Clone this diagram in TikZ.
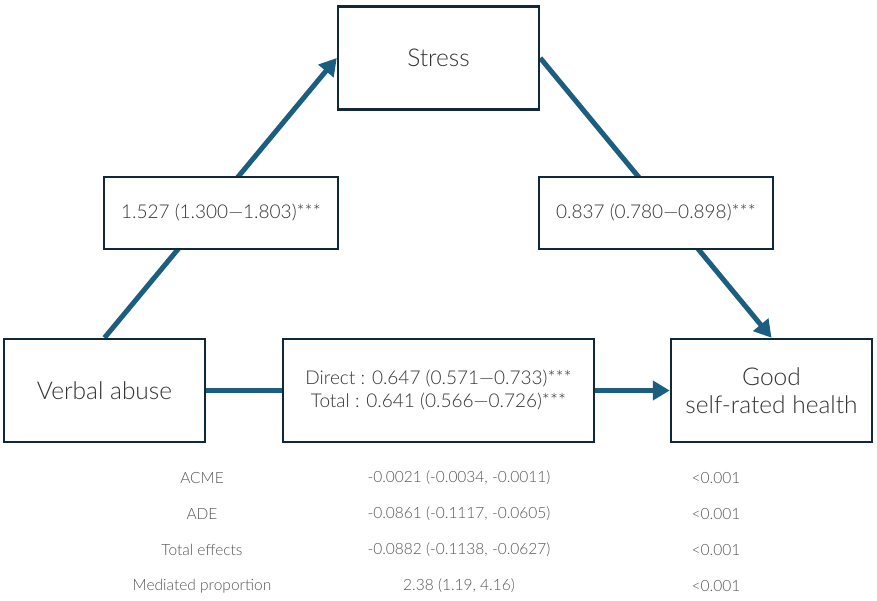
\documentclass[tikz,border=0pt]{standalone}
\usepackage{fontspec}
\setmainfont{Lato}[UprightFont=* Light]
\usetikzlibrary{arrows.meta,backgrounds}
\definecolor{arrowc}{HTML}{1C5E7F}
\definecolor{boxc}{HTML}{10293A}
\definecolor{txtc}{HTML}{333333}
\definecolor{tabc}{HTML}{555555}
\tikzset{
  mainbox/.style={draw=boxc,line width=2.5pt,fill=white,minimum width=201pt,minimum height=103pt,inner sep=0pt,align=center,text=txtc,font=\fontsize{24.5}{28}\selectfont},
  labbox/.style={draw=boxc,line width=2.5pt,fill=white,minimum width=234pt,minimum height=72pt,inner sep=0pt,align=center,text=txtc,font=\fontsize{19}{23}\selectfont},
  conn/.style={draw=arrowc,line width=5pt},
  arr/.style={conn,-{Triangle[length=17pt,width=19pt]}},
  tabtxt/.style={text=tabc,font=\fontsize{15.5}{18}\selectfont,inner sep=0pt}
}
\begin{document}
\begin{tikzpicture}[x=1pt,y=-1pt]
\useasboundingbox (0,0) rectangle (877,601);
\node[mainbox] (stress) at (438.5,58) {Stress};
\node[mainbox] (va) at (104.5,390.5) {Verbal abuse};
\node[mainbox] (good) at (771.5,390.5) {Good\\self-rated health};
\node[labbox] (l1) at (221,213) {1.527 (1.300—1.803)***};
\node[labbox] (l2) at (656,213) {0.837 (0.780—0.898)***};
\node[labbox,minimum width=311pt,minimum height=103pt] (dir) at (438.5,390.5) {Direct : 0.647 (0.571—0.733)***\\Total : 0.641 (0.566—0.726)***};
\begin{scope}[on background layer]
\fill[white] (0,0) rectangle (877,601);
\draw[arr] (va.north) -- (stress.west);
\draw[arr] (stress.east) -- (good.north);
\draw[arr] (va.east) -- (good.west);
\end{scope}
\node[tabtxt] (r1a) at (202,478) {ACME};
\node[tabtxt] (r1b) at (459,478) {-0.0021 (-0.0034, -0.0011)};
\node[tabtxt] (r1c) at (716,478) {<0.001};
\node[tabtxt] (r2a) at (202,514) {ADE};
\node[tabtxt] (r2b) at (459,514) {-0.0861 (-0.1117, -0.0605)};
\node[tabtxt] (r2c) at (716,514) {<0.001};
\node[tabtxt] (r3a) at (202,550) {Total effects};
\node[tabtxt] (r3b) at (459,550) {-0.0882 (-0.1138, -0.0627)};
\node[tabtxt] (r3c) at (716,550) {<0.001};
\node[tabtxt] (r4a) at (202,586) {Mediated proportion};
\node[tabtxt] (r4b) at (459,586) {2.38 (1.19, 4.16)};
\node[tabtxt] (r4c) at (716,586) {<0.001};
\end{tikzpicture}
\end{document}
